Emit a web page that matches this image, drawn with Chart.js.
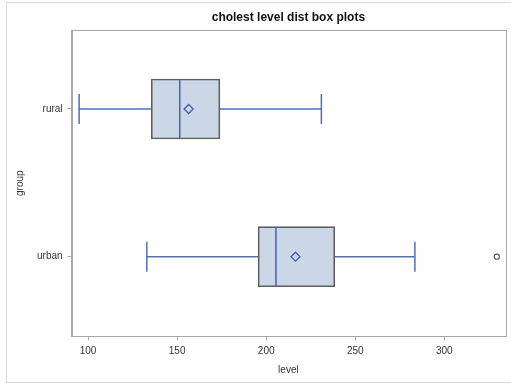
<!DOCTYPE html>
<html>
<head>
<meta charset="utf-8">
<script src="https://cdn.jsdelivr.net/npm/chart.js@4"></script>
<style>
  html, body { margin: 0; padding: 0; background: #fff; }
  #wrap { position: absolute; left: 0; top: 0; width: 511px; height: 385px; }
  #frame { position: absolute; left: 6px; top: 2px; width: 520px; height: 381px; border: 1px solid #d9d9d9; box-sizing: border-box; }
  canvas { position: absolute; left: 0; top: 0; }
</style>
</head>
<body>
<div id="wrap">
  <div id="frame"></div>
  <canvas id="boxChart" width="511" height="385"></canvas>
</div>
<script>
const groups = ['rural', 'urban'];
const whiskerLow = [95, 133];
const q1 = [135.5, 195.5];
const median = [151.5, 205.5];
const q3 = [174, 238.5];
const whiskerHigh = [231, 283.5];
const means = [156.5, 216.5];
const outliers = [[], [329.5]];
const xTicks = [100, 150, 200, 250, 300];

const fontFamily = '"Liberation Sans", Arial, sans-serif';
const lineBlue = '#4f6fc2';

// whiskers, caps and median lines, placed through the chart scales
const boxParts = {
  id: 'boxParts',
  beforeDatasetsDraw(chart) {
    const { ctx, scales: { x, y } } = chart;
    ctx.save();
    ctx.strokeStyle = lineBlue;
    ctx.lineWidth = 1.5;
    groups.forEach((g, i) => {
      const py = y.getPixelForValue(i);
      const lo = x.getPixelForValue(whiskerLow[i]);
      const hi = x.getPixelForValue(whiskerHigh[i]);
      ctx.beginPath();
      ctx.moveTo(lo, py);
      ctx.lineTo(x.getPixelForValue(q1[i]), py);
      ctx.moveTo(x.getPixelForValue(q3[i]), py);
      ctx.lineTo(hi, py);
      ctx.moveTo(lo, py - 15);
      ctx.lineTo(lo, py + 15);
      ctx.moveTo(hi, py - 15);
      ctx.lineTo(hi, py + 15);
      ctx.stroke();
    });
    ctx.restore();
  },
  afterDatasetsDraw(chart) {
    const { ctx, scales: { x, y } } = chart;
    ctx.save();
    ctx.strokeStyle = '#4463b0';
    ctx.lineWidth = 1.5;
    groups.forEach((g, i) => {
      const py = y.getPixelForValue(i);
      const mx = x.getPixelForValue(median[i]);
      ctx.beginPath();
      ctx.moveTo(mx, py - 29);
      ctx.lineTo(mx, py + 29);
      ctx.stroke();
    });
    ctx.restore();
  }
};

const chart = new Chart(document.getElementById('boxChart'), {
  type: 'bar',
  data: {
    datasets: [
      {
        label: 'box',
        data: groups.map((g, i) => ({ x: [q1[i], q3[i]], y: i })),
        backgroundColor: '#cbd6e6',
        borderColor: '#5e5e5e',
        borderWidth: 1.6,
        borderSkipped: false,
        barThickness: 60,
        order: 2,
      },
      {
        type: 'scatter',
        label: 'mean',
        data: groups.map((g, i) => ({ x: means[i], y: i })),
        pointStyle: 'rectRot',
        pointRadius: 4.5,
        backgroundColor: 'rgba(0,0,0,0)',
        borderColor: '#3f62b8',
        borderWidth: 1.3,
        order: 1,
      },
      {
        type: 'scatter',
        label: 'outlier',
        data: groups.flatMap((g, i) => outliers[i].map(v => ({ x: v, y: i }))),
        pointStyle: 'circle',
        pointRadius: 2.6,
        backgroundColor: 'rgba(0,0,0,0)',
        borderColor: '#555555',
        borderWidth: 1.1,
        order: 1,
      },
    ],
  },
  options: {
    indexAxis: 'y',
    responsive: false,
    animation: false,
    layout: { padding: { left: 14, right: 4, top: 5, bottom: 9 } },
    plugins: {
      legend: { display: false },
      tooltip: { enabled: false },
      title: {
        display: true,
        fullSize: false,
        text: 'cholest level dist box plots',
        color: '#111',
        font: { family: fontFamily, size: 12, weight: 'bold' },
        padding: { top: 5, bottom: 6 },
      },
    },
    scales: {
      x: {
        type: 'linear',
        min: 90.76,
        max: 334.2,
        afterBuildTicks: (axis) => { axis.ticks = xTicks.map(v => ({ value: v })); },
        ticks: { color: '#333', font: { family: fontFamily, size: 10 }, padding: 5 },
        grid: { drawOnChartArea: false, tickLength: 4, color: '#a8a8a8' },
        border: { color: '#a8a8a8', width: 1 },
        title: { display: true, text: 'level', color: '#333', font: { family: fontFamily, size: 10 }, padding: { top: 2, bottom: 0 } },
      },
      y: {
        type: 'linear',
        reverse: true,
        offset: false,
        min: -0.532,
        max: 1.537,
        afterBuildTicks: (axis) => { axis.ticks = groups.map((g, i) => ({ value: i })); },
        ticks: { color: '#333', font: { family: fontFamily, size: 10 }, padding: 5, callback: (v) => groups[v] },
        grid: { drawOnChartArea: false, tickLength: 4, color: '#a8a8a8', offset: false },
        border: { color: '#a8a8a8', width: 1 },
        title: { display: true, text: 'group', color: '#333', font: { family: fontFamily, size: 10 }, padding: { top: 0, bottom: 6 } },
      },
    },
  },
  plugins: [boxParts, {
    id: 'plotFrame',
    afterDraw(chart) {
      const { ctx, chartArea: a } = chart;
      ctx.save();
      ctx.strokeStyle = '#a8a8a8';
      ctx.lineWidth = 1;
      ctx.strokeRect(Math.round(a.left) + 0.5, Math.round(a.top) + 0.5, Math.round(a.right - a.left), Math.round(a.bottom - a.top));
      ctx.restore();
    }
  }],
});
</script>
</body>
</html>
